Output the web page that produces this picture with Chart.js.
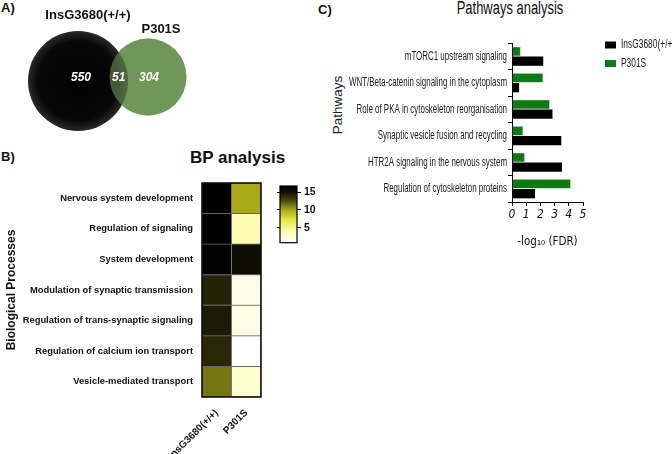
<!DOCTYPE html>
<html>
<head>
<meta charset="utf-8">
<script src="https://cdn.jsdelivr.net/npm/chart.js@4.4.1/dist/chart.umd.min.js"></script>
<style>
  html, body { margin:0; padding:0; background:#fff; width:672px; height:454px; overflow:hidden; }
  canvas { position:absolute; }
  .lbl { position:absolute; font-family:'Liberation Sans', Arial, sans-serif; font-weight:bold; color:#111; white-space:nowrap; }
</style>
</head>
<body>
<div class="lbl" style="left:1px;top:0px;font-size:13px;">A)</div>
<div class="lbl" style="left:1px;top:149px;font-size:13px;">B)</div>
<div class="lbl" style="left:318px;top:2px;font-size:13px;">C)</div>
<div class="lbl" style="left:190px;top:148px;font-size:17px;">BP analysis</div>
<div class="lbl" style="left:510px;top:-2px;font-size:18px;font-weight:normal;transform:translateX(-50%) scaleX(0.72);">Pathways analysis</div>
<div class="lbl" style="left:337px;top:105px;font-size:13.5px;font-weight:normal;color:#222;transform:translate(-50%,-50%) rotate(-90deg);">Pathways</div>

<canvas id="venn" width="230" height="150" style="left:0;top:0"></canvas>
<canvas id="heat" width="275" height="284" style="left:0;top:170px"></canvas>
<canvas id="cbar" width="60" height="76" style="left:270px;top:176px"></canvas>
<canvas id="path" width="342" height="252" style="left:330px;top:0"></canvas>

<script>
// ---- data ----
const vennSets = ['InsG3680(+/+)', 'P301S'];
const vennOnly = [550, 304];
const vennShared = 51;

const heatCols = ['InsG3680(+/+)', 'P301S'];
const processes = [
  'Nervous system development',
  'Regulation of signaling',
  'System development',
  'Modulation of synaptic transmission',
  'Regulation of trans-synaptic signaling',
  'Regulation of calcium ion transport',
  'Vesicle-mediated transport'
];
const insBP = [16.7, 16.7, 16.5, 14.2, 14.5, 14.0, 11.4];
const p301BP = [10.0, 3.9, 15.2, 1.8, 1.9, 0.8, 2.7];
const cbarTicks = [5, 10, 15];

const pathways = [
  'mTORC1 upstream signaling',
  'WNT/Beta-catenin signaling in the cytoplasm',
  'Role of PKA in cytoskeleton reorganisation',
  'Synaptic vesicle fusion and recycling',
  'HTR2A signaling in the nervous system',
  'Regulation of cytoskeleton proteins'
];
const insFDR = [2.2, 0.5, 2.85, 3.47, 3.52, 1.62];
const p301FDR = [0.6, 2.18, 2.65, 0.77, 0.89, 4.13];
const fdrTicks = [0, 1, 2, 3, 4, 5];

const SANS = "'Liberation Sans', Arial, sans-serif";
const COND = "'DejaVu Sans Condensed', 'Liberation Sans', sans-serif";

function el(id){ return document.getElementById(id).getContext('2d'); }

// ---- A) Venn ----
const vennTotals = [vennOnly[0] + vennShared, vennOnly[1] + vennShared];
const radii = vennTotals.map(t => 2.04 * Math.sqrt(t));
const blackC = { x: 78, y: 81 };
const greenC = { x: 148, y: 77 };
const GREEN = 'rgb(112,150,88)';

const vennText = {
  id: 'vennText',
  afterDatasetsDraw(chart) {
    const { ctx, scales: { x, y } } = chart;
    ctx.save();
    ctx.textAlign = 'center';
    ctx.textBaseline = 'middle';
    ctx.fillStyle = '#fff';
    ctx.font = `italic bold 12px ${SANS}`;
    const ny = y.getPixelForValue(greenC.y + 1);
    const bRight = x.getPixelForValue(blackC.x) + radii[0];
    const gLeft = x.getPixelForValue(greenC.x) - radii[1];
    ctx.fillText(String(vennOnly[0]), x.getPixelForValue(blackC.x) + 3, ny);
    ctx.fillText(String(vennShared), (bRight + gLeft) / 2, ny);
    ctx.fillText(String(vennOnly[1]), x.getPixelForValue(greenC.x) + 1, ny);
    ctx.fillStyle = '#111';
    ctx.font = `bold 13px ${SANS}`;
    ctx.fillText(vennSets[0], x.getPixelForValue(blackC.x) + 10, y.getPixelForValue(blackC.y) - radii[0] - 16);
    ctx.fillText(vennSets[1], x.getPixelForValue(greenC.x) + 13, y.getPixelForValue(greenC.y) - radii[1] - 9);
    ctx.restore();
  }
};

function blackFill(c) {
  const chart = c.chart;
  if (!chart.chartArea) return '#000';
  const px = chart.scales.x.getPixelForValue(blackC.x);
  const py = chart.scales.y.getPixelForValue(blackC.y);
  const g = chart.ctx.createRadialGradient(px, py, 0, px, py, radii[0]);
  g.addColorStop(0, '#000');
  g.addColorStop(0.8, '#080808');
  g.addColorStop(1, '#2a2a2a');
  return g;
}

new Chart(el('venn'), {
  type: 'bubble',
  data: {
    datasets: [
      { data: [{ x: greenC.x, y: greenC.y, r: radii[1] }], backgroundColor: 'rgba(112,150,88,0.58)', borderWidth: 0, clip: false },
      { data: [{ x: blackC.x, y: blackC.y, r: radii[0] }], backgroundColor: blackFill, borderWidth: 0, clip: false },
      { data: [{ x: greenC.x, y: greenC.y, r: radii[1] }], backgroundColor: GREEN, borderWidth: 0, clip: false }
    ]
  },
  options: {
    responsive: false, animation: false,
    layout: { padding: 0, autoPadding: false },
    plugins: { legend: { display: false }, tooltip: { enabled: false } },
    scales: {
      x: { display: false, min: 0, max: 230 },
      y: { display: false, min: 0, max: 150, reverse: true }
    }
  },
  plugins: [vennText]
});

// ---- B) heatmap ----
const allBP = insBP.concat(p301BP);
const bpMin = Math.min(...allBP);
const bpMax = Math.max(...allBP);
const cmap = [
  [0.8, [255, 255, 255]],
  [4, [251, 251, 176]],
  [7, [234, 234, 70]],
  [10, [170, 170, 24]],
  [12.5, [76, 76, 12]],
  [15, [16, 16, 5]],
  [16.7, [0, 0, 0]]
];
function colorFor(v) {
  if (v <= cmap[0][0]) return `rgb(${cmap[0][1].join(',')})`;
  for (let i = 1; i < cmap.length; i++) {
    if (v <= cmap[i][0]) {
      const [v0, c0] = cmap[i - 1], [v1, c1] = cmap[i];
      const t = (v - v0) / (v1 - v0);
      return `rgb(${c0.map((c, k) => Math.round(c + (c1[k] - c) * t)).join(',')})`;
    }
  }
  return `rgb(${cmap[cmap.length - 1][1].join(',')})`;
}

const frame = {
  id: 'frame',
  afterDatasetsDraw(chart, args, opts) {
    const { ctx, chartArea: a } = chart;
    ctx.save();
    ctx.strokeStyle = '#000';
    ctx.lineWidth = opts.width || 1.5;
    ctx.strokeRect(a.left, a.top, a.right - a.left, a.bottom - a.top);
    ctx.restore();
  }
};

const heatSeries = [insBP, p301BP];
new Chart(el('heat'), {
  type: 'bar',
  data: {
    labels: processes,
    datasets: heatSeries.map((vals, c) => ({
      label: heatCols[c],
      data: vals.map(() => [c, c + 1]),
      backgroundColor: vals.map(colorFor),
      borderColor: 'rgba(95,95,95,0.9)',
      borderWidth: 0.8,
      borderSkipped: false,
      barPercentage: 1,
      categoryPercentage: 1
    }))
  },
  options: {
    indexAxis: 'y', responsive: false, animation: false,
    layout: { padding: { top: 13, right: 14 } },
    plugins: { legend: { display: false }, tooltip: { enabled: false }, frame: { width: 1.5 } },
    datasets: { bar: { grouped: false } },
    scales: {
      x: {
        min: 0, max: heatCols.length,
        grid: { display: false }, border: { display: false },
        afterBuildTicks: s => { s.ticks = heatCols.map((_, i) => ({ value: i + 0.5 })); },
        afterFit: s => { s.height = 57; },
        ticks: {
          autoSkip: false, minRotation: 45, maxRotation: 45, padding: 2,
          color: '#111', font: { family: SANS, size: 10, weight: 'bold' },
          callback: (v, i) => heatCols[i]
        }
      },
      y: {
        grid: { display: false }, border: { display: false },
        afterFit: s => { s.width = 202; },
        ticks: { color: '#111', padding: 1, font: { family: SANS, size: 9.4, weight: 'bold' } },
        title: { display: true, text: 'Biological Processes', color: '#111', padding: { top: 4, bottom: 0 }, font: { family: SANS, size: 12, weight: 'bold' } }
      }
    }
  },
  plugins: [frame]
});

// colour bar
function barFill(c) {
  const chart = c.chart;
  if (!chart.chartArea) return '#888';
  const y = chart.scales.y;
  const y0 = y.getPixelForValue(bpMin), y1 = y.getPixelForValue(bpMax);
  const g = chart.ctx.createLinearGradient(0, y0, 0, y1);
  cmap.forEach(([v, rgb]) => g.addColorStop((v - bpMin) / (bpMax - bpMin), `rgb(${rgb.join(',')})`));
  return g;
}
new Chart(el('cbar'), {
  type: 'bar',
  data: { labels: [''], datasets: [{ data: [[bpMin, bpMax]], backgroundColor: barFill, barPercentage: 1, categoryPercentage: 1, borderWidth: 0 }] },
  options: {
    responsive: false, animation: false,
    layout: { padding: { top: 10, bottom: 9 } },
    plugins: { legend: { display: false }, tooltip: { enabled: false }, frame: { width: 1.2 } },
    scales: {
      x: { display: false },
      y: {
        position: 'right', min: bpMin, max: bpMax,
        afterBuildTicks: s => { s.ticks = cbarTicks.map(v => ({ value: v })); },
        afterFit: s => { s.width = 33; },
        grid: { drawOnChartArea: false, tickLength: 4, color: '#000' },
        border: { display: false },
        ticks: { color: '#111', padding: 3, font: { family: SANS, size: 10.5, weight: 'bold' } }
      },
      yl: {
        position: 'left', min: bpMin, max: bpMax,
        afterBuildTicks: s => { s.ticks = cbarTicks.map(v => ({ value: v })); },
        afterFit: s => { s.width = 10; },
        grid: { drawOnChartArea: false, tickLength: 3, color: '#000' },
        border: { display: false },
        ticks: { display: false }
      }
    }
  },
  plugins: [frame]
});

// ---- C) pathways ----
// labels in the figure are set in a condensed face; draw them squeezed
const narrowText = {
  id: 'narrowText',
  afterDraw(chart) {
    const { ctx, chartArea: a } = chart;
    const s = chart.scales.y;
    ctx.save();
    ctx.font = `12.5px ${SANS}`;
    const longest = Math.max(...pathways.map(t => ctx.measureText(t).width));
    const sx = 158 / longest;
    ctx.fillStyle = '#1a1a1a';
    ctx.textAlign = 'right';
    ctx.textBaseline = 'middle';
    pathways.forEach((t, i) => {
      ctx.save();
      ctx.translate(s.right - 5, s.getPixelForTick(i));
      ctx.scale(sx, 1);
      ctx.fillText(t, 0, 0);
      ctx.restore();
    });
    // legend
    ctx.textAlign = 'left';
    ctx.font = `12px ${SANS}`;
    const ds = chart.data.datasets.slice().reverse();
    ds.forEach((d, i) => {
      const lx = a.right + 22, ly = 45 + i * 18.5;
      ctx.fillStyle = d.backgroundColor;
      ctx.fillRect(lx, ly - 3.5, 11, 7);
      ctx.fillStyle = '#1a1a1a';
      ctx.save();
      ctx.translate(lx + 16, ly);
      ctx.scale(0.7, 1);
      ctx.fillText(d.label, 0, 0);
      ctx.restore();
    });
    ctx.restore();
  }
};

new Chart(el('path'), {
  type: 'bar',
  data: {
    labels: pathways,
    datasets: [
      { label: 'P301S', data: p301FDR, backgroundColor: '#0e7a12', borderColor: '#2f9a32', borderWidth: 0.6 },
      { label: 'InsG3680(+/+)', data: insFDR, backgroundColor: '#000', borderWidth: 0 }
    ]
  },
  options: {
    indexAxis: 'y', responsive: false, animation: false,
    layout: { padding: { top: 43, right: 89 } },
    datasets: { bar: { barPercentage: 0.95, categoryPercentage: 0.74 } },
    plugins: { tooltip: { enabled: false }, legend: { display: false } },
    scales: {
      x: {
        min: 0, max: 5,
        afterBuildTicks: s => { s.ticks = fdrTicks.map(v => ({ value: v })); },
        afterFit: s => { s.height = 50; },
        grid: { drawOnChartArea: false, tickLength: 4, color: '#000' },
        border: { color: '#000', width: 1 },
        ticks: { color: '#111', padding: 2, font: { family: COND, size: 12, style: 'italic' } },
        title: { display: true, text: '-log\u2081\u2080 (FDR)', color: '#111', padding: { top: 6, bottom: 3 }, font: { family: COND, size: 11.5 } }
      },
      y: {
        afterFit: s => { s.width = 182; },
        grid: { drawOnChartArea: false, tickLength: 4, color: '#000' },
        border: { color: '#000', width: 1 },
        ticks: { color: 'rgba(0,0,0,0)', padding: 1, font: { family: SANS, size: 11 } }
      }
    }
  },
  plugins: [narrowText]
});
</script>
</body>
</html>
